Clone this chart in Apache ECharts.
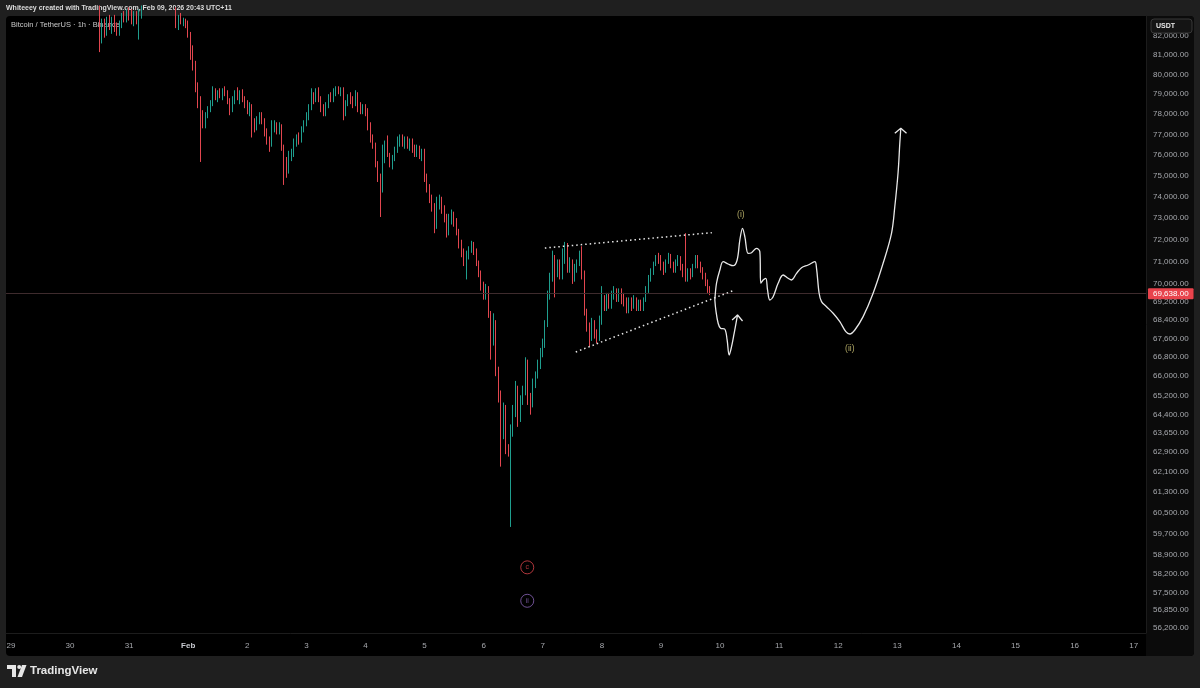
<!DOCTYPE html>
<html><head><meta charset="utf-8">
<script src="https://cdn.jsdelivr.net/npm/echarts@6/dist/echarts.min.js"></script>
<style>html,body{margin:0;padding:0;background:#1f1f1f;}#c{width:1200px;height:688px;}</style>
</head><body><div id="c"></div>
<script>
// hours are counted from 2026-01-29 00:00 (UTC+11)
const startHour = 36; // first candle: Jan 30 12:00, hourly candles
// [open, high, low, close]
const ohlc = [
[83300,83600,81150,82100],[82100,82900,81600,82600],[82600,82900,81900,82200],[82200,83000,82000,82800],
[82800,83100,82300,82500],[82500,83000,82100,82900],[82900,83100,82200,82400],[82400,82700,82000,82200],
[82200,82800,82000,82600],[82600,83200,82400,83000],[83000,83300,82700,82900],[82900,83400,82700,83200],
[83200,83500,82800,83000],[83000,83400,82600,82700],[82700,83300,82500,83100],[83100,83300,82600,82800],
[82800,83400,81800,83200],[83200,83600,82900,83400],[83400,83900,83100,83700],[83700,84100,83500,83900],
[83900,84500,83700,84300],[84300,84600,83900,84100],[84100,84800,84000,84500],[84500,84700,84000,84200],
[84200,84400,83600,83800],[83800,84300,83600,84000],[84000,84200,83500,83700],[83700,83900,83300,83500],
[83500,83900,83300,83600],[83600,83800,83200,83400],[83400,83700,83100,83300],[83300,83500,82400,82500],
[82500,83100,82300,82900],[82900,83200,82600,82700],[82700,82950,82500,82800],[82800,82900,82400,82500],
[82500,82800,81900,82050],[82050,82200,80750,81250],[81250,81500,80200,80500],[80500,80700,79100,79300],
[79300,79600,78300,78700],[78700,78900,75660,77960],[77960,78200,77300,77500],[77500,78100,77300,77950],
[77950,78400,77800,78300],[78300,78700,78100,78600],[78600,79400,78400,79000],[79000,79300,78700,78800],
[78800,79200,78600,79100],[79100,79300,78800,78900],[78900,79300,78700,79200],[79200,79400,78900,79000],
[79000,79200,78500,78600],[78600,78800,77950,78200],[78200,78900,78100,78700],[78700,79200,78500,79000],
[79000,79350,78700,78800],[78800,79200,78500,79100],[79100,79250,78600,78700],[78700,78900,78300,78400],
[78400,78700,78000,78200],[78200,78600,77900,78400],[78400,78500,76850,77600],[77600,77800,77100,77300],
[77300,77900,77200,77800],[77800,78100,77500,78000],[78000,78100,77500,77600],[77600,77800,76900,77100],
[77100,77300,76500,76700],[76700,76900,76150,76500],[76500,77700,76400,77300],[77300,77700,77100,77500],
[77500,77600,77000,77200],[77200,77600,77000,77400],[77400,77500,76200,76350],[76350,76500,74560,75600],
[75600,75900,74900,75300],[75300,76200,75100,76000],[76000,76300,75700,76100],[76100,76800,75900,76600],
[76600,77000,76400,76900],[76900,77100,76500,76700],[76700,77400,76600,77300],[77300,77700,77100,77600],
[77600,78100,77400,77900],[77900,78500,77700,78400],[78400,79300,78200,78900],[78900,79100,78500,78700],
[78700,79300,78600,79100],[79100,79350,78600,78700],[78700,78900,78100,78300],[78300,78500,77900,78100],
[78100,78600,77900,78500],[78500,79000,78300,78900],[78900,79100,78600,78700],[78700,79300,78600,79200],
[79200,79400,78900,79300],[79300,79400,79000,79100],[79100,79350,78900,79250],[79250,79350,77700,78000],
[78000,78700,77900,78600],[78600,79000,78400,78900],[78900,79100,78500,78600],[78600,78900,78300,78500],
[78500,79200,78400,79000],[79000,79100,78100,78300],[78300,78600,78000,78200],[78200,78500,78000,78400],
[78400,78500,77900,78100],[78100,78300,77200,77400],[77400,77600,76600,76800],[76800,77000,76300,76450],
[76450,76600,75400,75600],[75600,75700,74700,74900],[74900,75100,73050,74400],[74400,76500,74200,75800],
[75800,76700,75600,76500],[76500,76950,75900,76000],[76000,76100,75400,75500],[75500,76000,75300,75900],
[75900,76400,75700,76200],[76200,76900,76100,76700],[76700,77000,76400,76800],[76800,77000,76400,76500],
[76500,76900,76300,76750],[76750,76900,76300,76450],[76450,76800,76200,76650],[76650,76800,76100,76300],
[76300,76500,75900,76100],[76100,76500,75900,76350],[76350,76450,75800,75950],[75950,76300,75700,76150],
[76150,76300,74700,74900],[74900,75100,74200,74400],[74400,74600,73700,73900],[73900,74100,73300,73500],
[73500,73700,72300,72700],[72700,74000,72500,73600],[73600,74100,73400,73900],[73900,74000,73200,73400],
[73400,73600,72800,73000],[73000,73200,72100,72350],[72350,73200,72200,73000],[73000,73400,72700,73200],
[73200,73300,72600,72800],[72800,73000,72200,72400],[72400,72500,71600,71800],[71800,72000,71200,71400],
[71400,71600,70800,71000],[71000,71500,70200,71300],[71300,71700,71100,71600],[71600,71950,71400,71850],
[71850,71900,71300,71450],[71450,71600,70800,70900],[70900,71050,70300,70450],[70450,70600,69700,69900],
[69900,70100,69300,69500],[69500,70000,69300,69800],[69800,69900,68500,68700],[68700,68800,66700,67500],
[67500,68700,67300,68250],[68250,68400,66000,66200],[66200,66400,64900,65200],[65200,65400,62300,63700],
[63700,64900,63400,64600],[64600,64800,62800,63000],[63000,63200,62700,62850],[62850,64000,59950,63850],
[63850,64800,63500,64600],[64600,65800,64300,65500],[65500,65600,63900,64300],[64300,65200,64100,65000],
[65000,65600,64800,65400],[65400,66800,65200,66500],[66500,66700,64800,65000],[65000,65300,64400,64900],
[64900,65900,64700,65700],[65700,66200,65500,66100],[66100,66700,65900,66500],[66500,67200,66300,67000],
[67000,67600,66800,67400],[67400,68400,67200,68200],[68200,69700,68100,69500],[69500,70500,69300,70300],
[70300,71500,70100,71100],[71100,71300,69400,70500],[70500,71100,70300,70900],[70900,71100,70200,70400],
[70400,71600,70200,71200],[71200,71900,70900,71500],[71500,71850,70500,70700],[70700,71200,70500,71000],
[71000,71100,70000,70300],[70300,70900,70100,70700],[70700,71100,70500,71000],[71000,71500,70800,71350],
[71350,71700,70200,70400],[70400,70600,68600,68750],[68750,68900,67900,68100],[68100,68300,67250,67700],
[67700,68500,67500,68300],[68300,68400,67600,67800],[67800,68000,67400,67600],[67600,68600,67500,68400],
[68400,69900,68200,69300],[69300,69500,68800,69000],[69000,69600,68800,69400],[69400,69600,68900,69100],
[69100,69700,68900,69500],[69500,69900,69300,69700],[69700,69800,69200,69400],[69400,69800,69200,69600],
[69600,69800,69100,69300],[69300,69600,69000,69200],[69200,69400,68700,68900],[68900,69400,68700,69200],
[69200,69400,68800,69000],[69000,69500,68900,69300],[69300,69400,68800,68950],[68950,69300,68800,69150],
[69150,69300,68800,68950],[68950,69400,68800,69300],[69300,69900,69200,69700],[69700,70400,69600,70300],
[70300,70700,70100,70500],[70500,71000,70400,70900],[70900,71300,70800,71200],[71200,71400,70900,71000],
[71000,71300,70600,70800],[70800,71000,70400,70600],[70600,71100,70500,71000],[71000,71400,70900,71250],
[71250,71350,70700,70900],[70900,71000,70500,70600],[70600,71100,70500,70950],[70950,71300,70800,71150],
[71150,71250,70600,70800],[70800,70900,70300,70500],[70500,72300,70100,70300],[70300,70700,70100,70600],
[70600,70700,70200,70400],[70400,70900,70300,70800],[70800,71300,70700,71200],[71200,71300,70700,70900],
[70900,71000,70500,70650],[70650,70750,70200,70400],[70400,70500,69900,70100],[70100,70200,69600,69800],
[69800,69900,69500,69638]
];
const dayLabels = ['29','30','31','Feb','2','3','4','5','6','7','8','9','10','11','12','13','14','15','16','17'];
const priceTicks = [82000,81000,80000,79000,78000,77000,76000,75000,74000,73000,72000,71000,70000,69200,68400,67600,66800,66000,65200,64400,63650,62900,62100,61300,60500,59700,58900,58200,57500,56850,56200];
const lastPrice = 69638;
// drawings: [hour, price]
const trendUpper = [[216.85,71620],[284.67,72325]];
const trendLower = [[229.4,67026],[294.0,69729]];
const pathUp = [[285.89,69286],[286.58,70040],[287.92,70623],[289.26,70997],[291.29,70894],[293.32,70817],[294.94,71075],[296.04,71987],[297.14,72527],[298.07,72139],[299.41,71379],[300.79,71407],[302.82,71608],[304.16,71453],[304.57,70027],[305.50,70175],[306.60,70251],[307.29,69729],[308.22,69286],[309.56,69432],[311.59,70027],[313.62,70399],[315.65,70251],[317.04,70175],[319.07,70475],[321.10,70727],[323.78,70849],[326.50,70997],[327.19,70700],[328.24,69583],[329.22,69211],[331.25,68991],[333.93,68700],[336.65,68334],[339.09,67900],[340.71,67800],[342.74,67973],[346.11,68553],[350.17,69583],[354.23,70925],[357.64,72295],[358.98,73534],[360.32,75167],[361.01,76565],[361.42,77302]];
const pathUpArrow = [[358.98,77055],[361.42,77302],[363.74,77055]];
const pathDown = [[285.89,69286],[286.29,68845],[287.23,68264],[288.20,68048],[289.95,68005],[290.88,67541],[291.70,66898],[292.67,67253],[293.73,67829],[295.11,68626]];
const pathDownArrow = [[292.91,68408],[295.11,68626],[297.14,68364]];
const waveLabels = [['(i)',296.45,73144],['(ii)',340.71,67155]];
const circleLabels = [['c',209.7,58425,'#d9434a'],['ii',209.7,57193,'#8a64b8']];

const L = Math.log;
const fmt = p => p.toLocaleString('en-US',{minimumFractionDigits:2,maximumFractionDigits:2});
const FONT = 'Liberation Sans, Arial, sans-serif';
const candles = ohlc.map((d,i)=>[startHour+i, L(d[0]), L(d[3]), L(d[2]), L(d[1])]);
const toXY = arr => arr.map(p=>[p[0], L(p[1])]);
const lineSeries = (data, opt) => Object.assign({type:'line', data: toXY(data), symbol:'none', silent:true, z:5,
  lineStyle:{color:'#e8e8e8', width:1.3}}, opt||{});

const chart = echarts.init(document.getElementById('c'), null, {renderer:'canvas'});
chart.setOption({
  animation:false,
  backgroundColor:'#1f1f1f',
  grid:{left:6, right:54, top:16, bottom:55},
  xAxis:{type:'value', min:-2, max:461,
    axisLine:{show:true, onZero:false, lineStyle:{color:'#1c1c1c'}}, axisTick:{show:false}, splitLine:{show:false},
    axisLabel:{customValues: dayLabels.map((d,i)=>i*24), margin:9, color:'#a6a8ad', fontSize:8, fontFamily:FONT,
      formatter: v => { const s = dayLabels[Math.round(v/24)]; return s==='Feb' ? '{b|Feb}' : s; },
      rich:{b:{fontWeight:'bold', color:'#c8cad0', fontSize:8, fontFamily:FONT}}}},
  yAxis:{type:'value', position:'right', min:L(56030), max:L(83040),
    axisLine:{show:true, onZero:false, lineStyle:{color:'#1c1c1c'}}, axisTick:{show:false}, splitLine:{show:false},
    axisLabel:{customValues: priceTicks.map(L), margin:7, color:'#a6a8ad', fontSize:8, fontFamily:FONT,
      formatter: v => { let best = priceTicks[0]; priceTicks.forEach(t=>{ if (Math.abs(L(t)-v) < Math.abs(L(best)-v)) best = t; }); return fmt(best); }}},
  series:[
    {type:'candlestick', data:candles, encode:{x:0, y:[1,2,3,4]}, barWidth:1, z:3,
      itemStyle:{color:'#1f9e8e', color0:'#e2464f', borderColor:'#1f9e8e', borderColor0:'#e2464f', borderWidth:1},
      markLine:{silent:true, symbol:['none','none'], data:[{yAxis:L(lastPrice)}],
        lineStyle:{color:'#3e2b2d', width:1, type:'solid'},
        label:{show:true, position:'end', distance:2, formatter:fmt(lastPrice), color:'#ffffff', fontSize:8, fontFamily:FONT,
          backgroundColor:'#e8434c', padding:[2,5,1,5], borderRadius:1}}},
    lineSeries(trendUpper, {lineStyle:{color:'#e8e8e8', width:1.5, type:[1.5,3]}}),
    lineSeries(trendLower, {lineStyle:{color:'#e8e8e8', width:1.5, type:[1.5,3]}}),
    lineSeries(pathUp, {smooth:0.35}),
    lineSeries(pathUpArrow),
    lineSeries(pathDown, {smooth:0.35}),
    lineSeries(pathDownArrow),
    {type:'scatter', silent:true, z:6, symbolSize:1, itemStyle:{color:'transparent'},
      data: waveLabels.map(w=>({value:[w[1], L(w[2])], name:w[0]})),
      label:{show:true, position:'inside', formatter:'{b}', color:'#d6cc7a', fontSize:8.5, fontFamily:FONT}},
    {type:'scatter', silent:true, z:6, symbol:'circle', symbolSize:13,
      data: circleLabels.map(c=>({value:[c[1], L(c[2])], name:c[0],
        itemStyle:{color:'transparent', borderColor:c[3], borderWidth:1},
        label:{color:c[3]}})),
      label:{show:true, position:'inside', formatter:'{b}', fontSize:7, fontFamily:FONT}}
  ],
  graphic:[
    {type:'rect', z:-10, silent:true, shape:{x:6, y:16, width:1188, height:640, r:4}, style:{fill:'#000000'}},
    {type:'rect', z:-9, silent:true, shape:{x:1146, y:16, width:48, height:640, r:[0,4,4,0]}, style:{fill:'#0b0b0b'}},
    {type:'text', z:1, silent:true, x:6, y:8, style:{text:'Whiteeey created with TradingView.com, Feb 09, 2026 20:43 UTC+11',
      fill:'#dcdcdc', font:'600 7px '+FONT, verticalAlign:'middle'}},
    {type:'text', z:1, silent:true, x:11, y:25, style:{text:'Bitcoin / TetherUS · 1h · Binance',
      fill:'#c9c9c9', font:'7.5px '+FONT, verticalAlign:'middle'}},
    {type:'rect', z:100, silent:true, shape:{x:1151, y:19, width:41, height:14, r:3}, style:{fill:'#141414', stroke:'#383838', lineWidth:1}},
    {type:'text', z:101, silent:true, x:1156, y:26.5, style:{text:'USDT', fill:'#e6e6e6', font:'bold 7px '+FONT, verticalAlign:'middle'}},
    {type:'polygon', z:1, silent:true, shape:{points:[[7,665],[16,665],[16,677],[12,677],[12,669],[7,669]]}, style:{fill:'#e6e6e6'}},
    {type:'circle', z:1, silent:true, shape:{cx:19.2, cy:667, r:2}, style:{fill:'#e6e6e6'}},
    {type:'polygon', z:1, silent:true, shape:{points:[[22,665],[26.5,665],[22,677],[17.5,677]]}, style:{fill:'#e6e6e6'}},
    {type:'text', z:1, silent:true, x:30, y:671, style:{text:'TradingView', fill:'#e6e6e6', font:'bold 11.5px '+FONT, verticalAlign:'middle'}}
  ]
});
</script></body></html>
